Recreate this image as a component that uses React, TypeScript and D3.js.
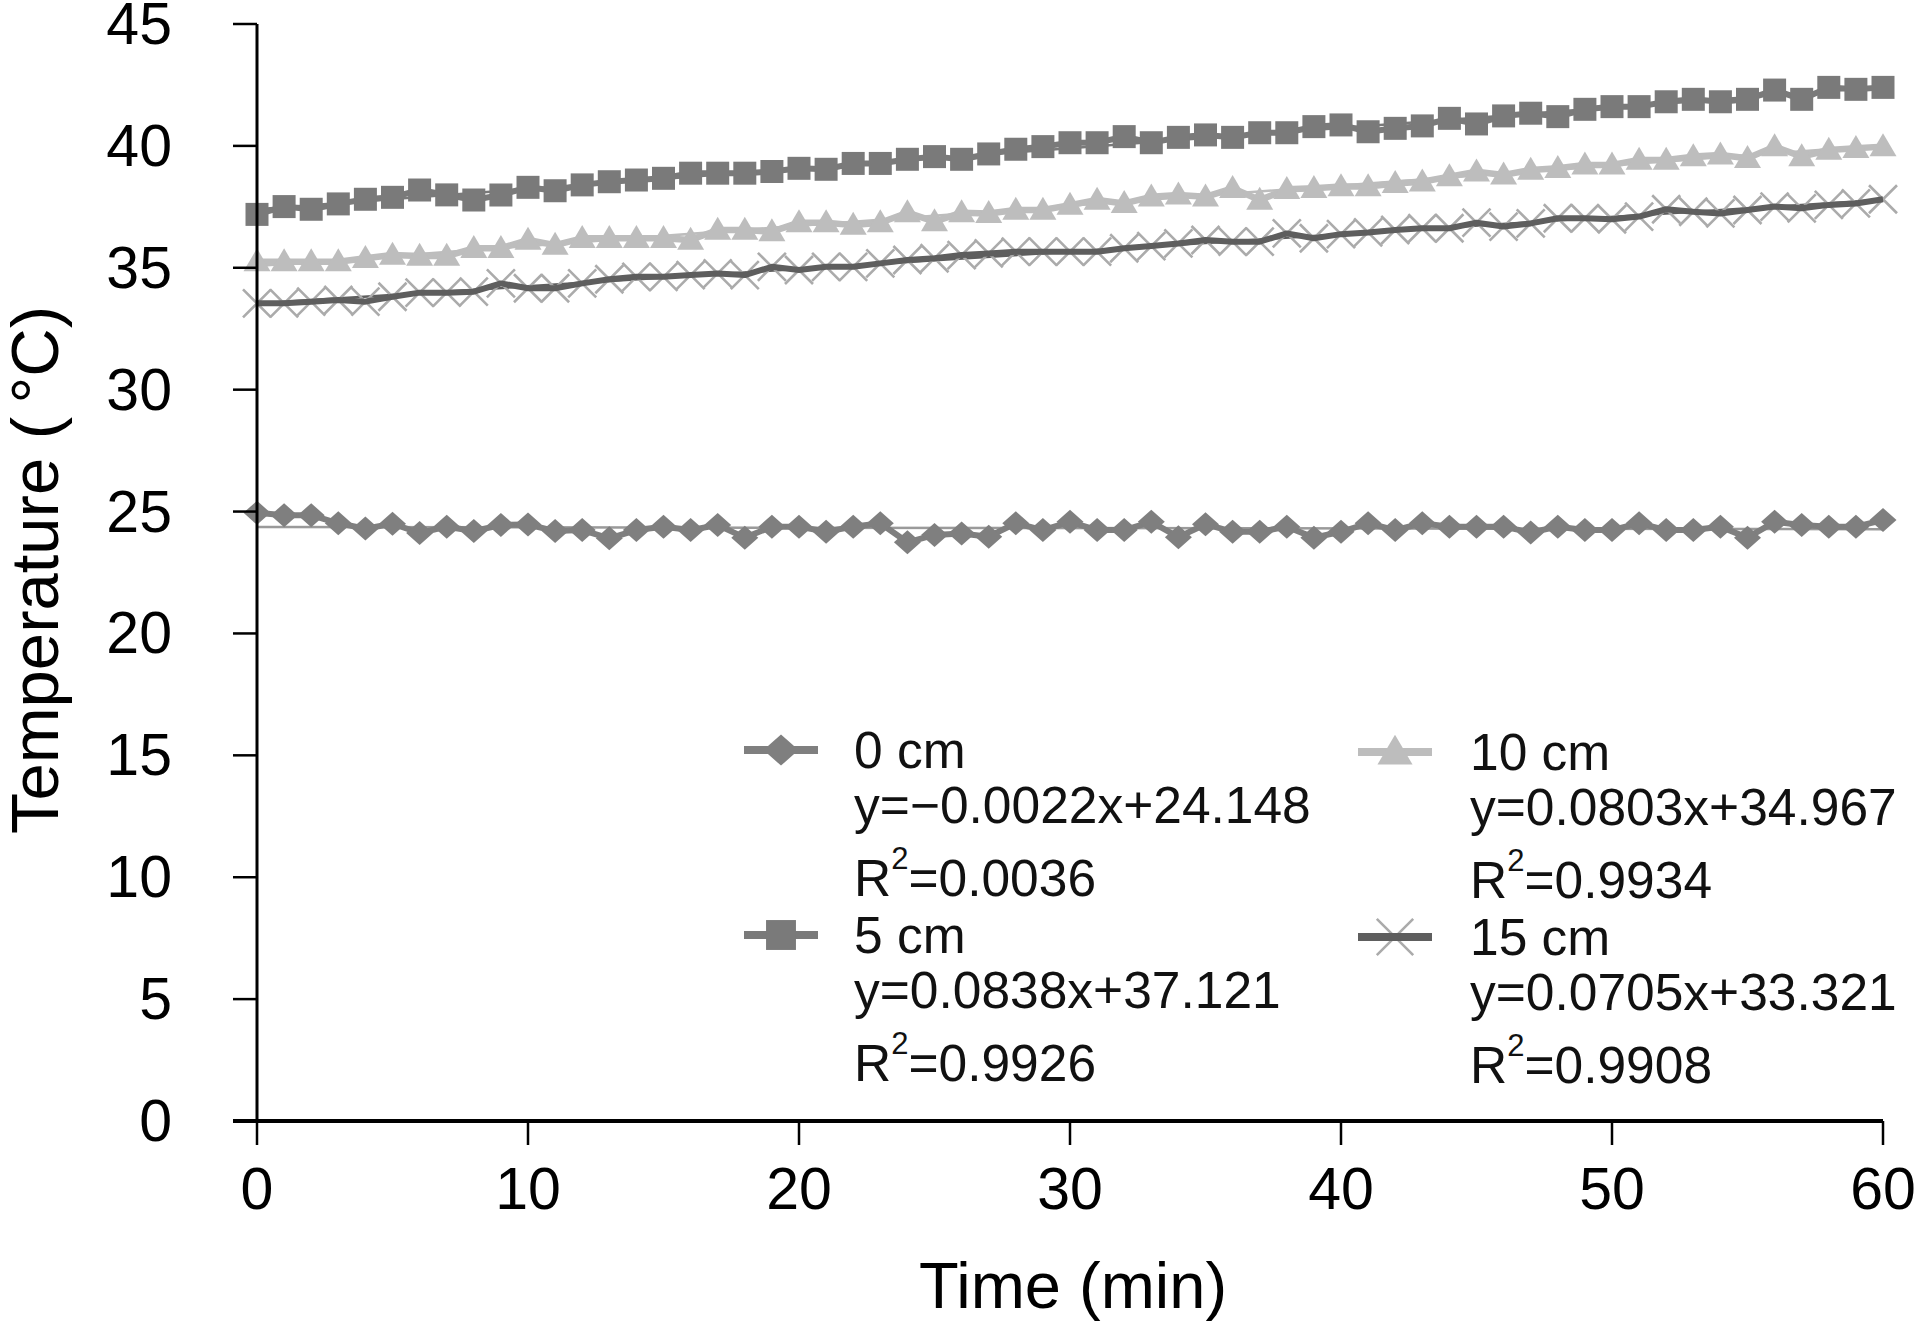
import React from 'react';
import * as d3 from 'd3';

const minutes = d3.range(0, 61);

const temp0cm = [
  24.95, 24.85, 24.85, 24.52, 24.30, 24.50, 24.12, 24.38, 24.20, 24.45,
  24.47, 24.20, 24.24, 23.90, 24.24, 24.38, 24.24, 24.45, 23.93, 24.38,
  24.38, 24.17, 24.38, 24.52, 23.74, 24.04, 24.10, 23.97, 24.52, 24.24,
  24.58, 24.24, 24.24, 24.58, 23.95, 24.48, 24.17, 24.17, 24.38, 23.93,
  24.17, 24.52, 24.24, 24.52, 24.38, 24.38, 24.38, 24.14, 24.38, 24.24,
  24.24, 24.52, 24.24, 24.24, 24.38, 23.93, 24.58, 24.45, 24.38, 24.38,
  24.65,
];

const temp5cm = [
  37.19, 37.51, 37.40, 37.62, 37.81, 37.89, 38.19, 37.99, 37.78, 37.99,
  38.30, 38.16, 38.40, 38.53, 38.60, 38.67, 38.88, 38.88, 38.88, 38.95,
  39.08, 39.04, 39.28, 39.28, 39.45, 39.56, 39.45, 39.67, 39.86, 39.97,
  40.13, 40.13, 40.38, 40.13, 40.35, 40.45, 40.35, 40.54, 40.54, 40.79,
  40.86, 40.58, 40.72, 40.82, 41.13, 40.90, 41.23, 41.34, 41.20, 41.50,
  41.61, 41.61, 41.81, 41.91, 41.81, 41.91, 42.29, 41.91, 42.40, 42.32,
  42.40,
];

const temp10cm = [
  35.25, 35.25, 35.25, 35.25, 35.39, 35.52, 35.48, 35.48, 35.80, 35.80,
  36.14, 35.93, 36.21, 36.21, 36.21, 36.21, 36.14, 36.55, 36.55, 36.48,
  36.85, 36.85, 36.75, 36.85, 37.26, 36.89, 37.26, 37.23, 37.37, 37.37,
  37.57, 37.78, 37.64, 37.91, 37.99, 37.91, 38.26, 37.78, 38.22, 38.26,
  38.33, 38.33, 38.46, 38.53, 38.74, 38.94, 38.81, 39.01, 39.08, 39.22,
  39.22, 39.42, 39.42, 39.56, 39.63, 39.49, 39.97, 39.56, 39.83, 39.90,
  39.97,
];

const temp15cm = [
  33.54, 33.54, 33.61, 33.68, 33.61, 33.81, 33.98, 33.98, 34.02, 34.36,
  34.16, 34.16, 34.36, 34.53, 34.63, 34.63, 34.70, 34.77, 34.70, 35.04,
  34.91, 35.04, 35.04, 35.18, 35.32, 35.39, 35.52, 35.59, 35.66, 35.66,
  35.66, 35.66, 35.80, 35.89, 36.00, 36.14, 36.07, 36.07, 36.41, 36.21,
  36.38, 36.45, 36.55, 36.62, 36.62, 36.85, 36.69, 36.82, 37.03, 37.03,
  36.99, 37.10, 37.40, 37.30, 37.23, 37.37, 37.51, 37.44, 37.58, 37.64,
  37.81,
];

const seriesNames = ['0 cm', '5 cm', '10 cm', '15 cm'];
const equations = [
  'y=\u22120.0022x+24.148',
  'y=0.0838x+37.121',
  'y=0.0803x+34.967',
  'y=0.0705x+33.321',
];
const r2Values = ['0.0036', '0.9926', '0.9934', '0.9908'];

const xTicks = [0, 10, 20, 30, 40, 50, 60];
const yTicks = [0, 5, 10, 15, 20, 25, 30, 35, 40, 45];
const xTitle = 'Time (min)';
const yTitle = 'Temperature (\u2009\u00B0C)';

const W = 1921;
const H = 1336;
const FONT = '"Liberation Sans", Arial, Helvetica, sans-serif';

const x = d3.scaleLinear().domain([0, 60]).range([257, 1883]);
const y = d3.scaleLinear().domain([0, 45]).range([1121, 24]);

type MarkerKind = 'diamond' | 'square' | 'triangle' | 'cross';

function markerPath(kind: MarkerKind, cx: number, cy: number, k = 1): string {
  const p = d3.path();
  if (kind === 'square') {
    const s = 11.5 * k;
    p.rect(cx - s, cy - s, 2 * s, 2 * s);
  } else if (kind === 'diamond') {
    const w = 13.5 * k, h = 12 * k;
    p.moveTo(cx, cy - h);
    p.lineTo(cx + w, cy);
    p.lineTo(cx, cy + h);
    p.lineTo(cx - w, cy);
    p.closePath();
  } else if (kind === 'triangle') {
    const w = 13.5 * k, h = 23 * k;
    p.moveTo(cx, cy - h * 0.58);
    p.lineTo(cx + w, cy + h * 0.42);
    p.lineTo(cx - w, cy + h * 0.42);
    p.closePath();
  } else {
    const s = 14 * k;
    p.moveTo(cx - s, cy - s);
    p.lineTo(cx + s, cy + s);
    p.moveTo(cx + s, cy - s);
    p.lineTo(cx - s, cy + s);
  }
  return p.toString();
}

interface Series {
  name: string;
  values: number[];
  marker: MarkerKind;
  lineColor: string;
  markerColor: string;
  lineWidth: number;
  eq: string;
  r2: string;
}

const series: Series[] = [
  { name: seriesNames[0], values: temp0cm, marker: 'diamond', lineColor: '#7f7f7f', markerColor: '#7f7f7f', lineWidth: 6, eq: equations[0], r2: r2Values[0] },
  { name: seriesNames[1], values: temp5cm, marker: 'square', lineColor: '#7a7a7a', markerColor: '#7a7a7a', lineWidth: 6, eq: equations[1], r2: r2Values[1] },
  { name: seriesNames[2], values: temp10cm, marker: 'triangle', lineColor: '#bdbdbd', markerColor: '#bdbdbd', lineWidth: 6.5, eq: equations[2], r2: r2Values[2] },
  { name: seriesNames[3], values: temp15cm, marker: 'cross', lineColor: '#5e5e5e', markerColor: '#ababab', lineWidth: 6, eq: equations[3], r2: r2Values[3] },
];

function regression(vals: number[]) {
  const mx = d3.mean(minutes) as number;
  const my = d3.mean(vals) as number;
  let num = 0, den = 0;
  vals.forEach((v, i) => {
    num += (minutes[i] - mx) * (v - my);
    den += (minutes[i] - mx) ** 2;
  });
  const slope = num / den;
  return { slope, intercept: my - slope * mx };
}

const line = d3.line<number>().x((_, i) => x(minutes[i])).y((d) => y(d));

function MarkerShape({ kind, cx, cy, color, k = 1 }: { kind: MarkerKind; cx: number; cy: number; color: string; k?: number }) {
  if (kind === 'cross') {
    return <path d={markerPath(kind, cx, cy, k)} fill="none" stroke={color} strokeWidth={2.6} />;
  }
  return <path d={markerPath(kind, cx, cy, k)} fill={color} stroke="none" />;
}

function SeriesMarks({ s }: { s: Series }) {
  const reg = regression(s.values);
  const trend = (
    <line
      x1={x(0)}
      x2={x(60)}
      y1={y(reg.intercept)}
      y2={y(reg.intercept + reg.slope * 60)}
      stroke={s.marker === 'diamond' ? '#9a9a9a' : s.lineColor}
      strokeWidth={2.5}
    />
  );
  const path = <path d={line(s.values) || ''} fill="none" stroke={s.lineColor} strokeWidth={s.lineWidth} strokeLinejoin="round" />;
  const markers = s.values.map((v, i) => (
    <MarkerShape key={i} kind={s.marker} cx={x(minutes[i])} cy={y(v)} color={s.markerColor} />
  ));
  if (s.marker === 'cross') {
    return (
      <g>
        {trend}
        {markers}
        {path}
      </g>
    );
  }
  return (
    <g>
      {trend}
      {path}
      {markers}
    </g>
  );
}

const legendCols = [
  { markerX: 781, textX: 854, dy: 0 },
  { markerX: 1395, textX: 1470, dy: 2 },
];
const legendRowTop = [750, 935];

function Legend() {
  const FS = 51.5;
  return (
    <g fontFamily={FONT} fontSize={FS} fill="#111">
      {series.map((s, k) => {
        const col = legendCols[Math.floor(k / 2)];
        const cy = legendRowTop[k % 2] + col.dy;
        return (
          <g key={s.name}>
            <line x1={col.markerX - 37} x2={col.markerX + 37} y1={cy} y2={cy} stroke={s.lineColor} strokeWidth={8} />
            <MarkerShape kind={s.marker} cx={col.markerX} cy={cy} color={s.markerColor} k={1.3} />
            {s.marker === 'cross' && (
              <line x1={col.markerX - 37} x2={col.markerX + 37} y1={cy} y2={cy} stroke={s.lineColor} strokeWidth={8} />
            )}
            <text x={col.textX} y={cy + 18}>{s.name}</text>
            <text x={col.textX} y={cy + 73}>{s.eq}</text>
            <text x={col.textX} y={cy + 146}>
              R<tspan fontSize={31} dy={-27}>2</tspan>
              <tspan dy={27}>={s.r2}</tspan>
            </text>
          </g>
        );
      })}
    </g>
  );
}

export default function App() {
  return (
    <svg
      width={W}
      height={H}
      viewBox={`0 0 ${W} ${H}`}
      style={{ position: 'absolute', left: 0, top: 0, background: '#fff', display: 'block' }}
    >
      <rect x={0} y={0} width={W} height={H} fill="#fff" />
      {series.map((s) => (
        <SeriesMarks key={s.name} s={s} />
      ))}
      <g stroke="#000">
        <line x1={x(0)} x2={x(0)} y1={y(45)} y2={y(0)} strokeWidth={3} />
        <line x1={x(0) - 24} x2={x(60)} y1={y(0)} y2={y(0)} strokeWidth={4} />
        {yTicks.map((t) => (
          <line key={t} x1={x(0) - 24} x2={x(0)} y1={y(t)} y2={y(t)} strokeWidth={2.5} />
        ))}
        {xTicks.map((t) => (
          <line key={t} x1={x(t)} x2={x(t)} y1={y(0)} y2={y(0) + 24} strokeWidth={2.5} />
        ))}
      </g>
      <g fontFamily={FONT} fontSize={59} fill="#000">
        {yTicks.map((t) => (
          <text key={t} x={172} y={y(t)} textAnchor="end" dominantBaseline="central">
            {t}
          </text>
        ))}
        {xTicks.map((t) => (
          <text key={t} x={x(t)} y={1209} textAnchor="middle">
            {t}
          </text>
        ))}
      </g>
      <text x={1073} y={1308} textAnchor="middle" fontFamily={FONT} fontSize={65} fill="#000">
        {xTitle}
      </text>
      <text
        transform={`translate(58, ${570}) rotate(-90)`}
        textAnchor="middle"
        fontFamily={FONT}
        fontSize={67}
        fill="#000"
      >
        {yTitle}
      </text>
      <Legend />
    </svg>
  );
}
